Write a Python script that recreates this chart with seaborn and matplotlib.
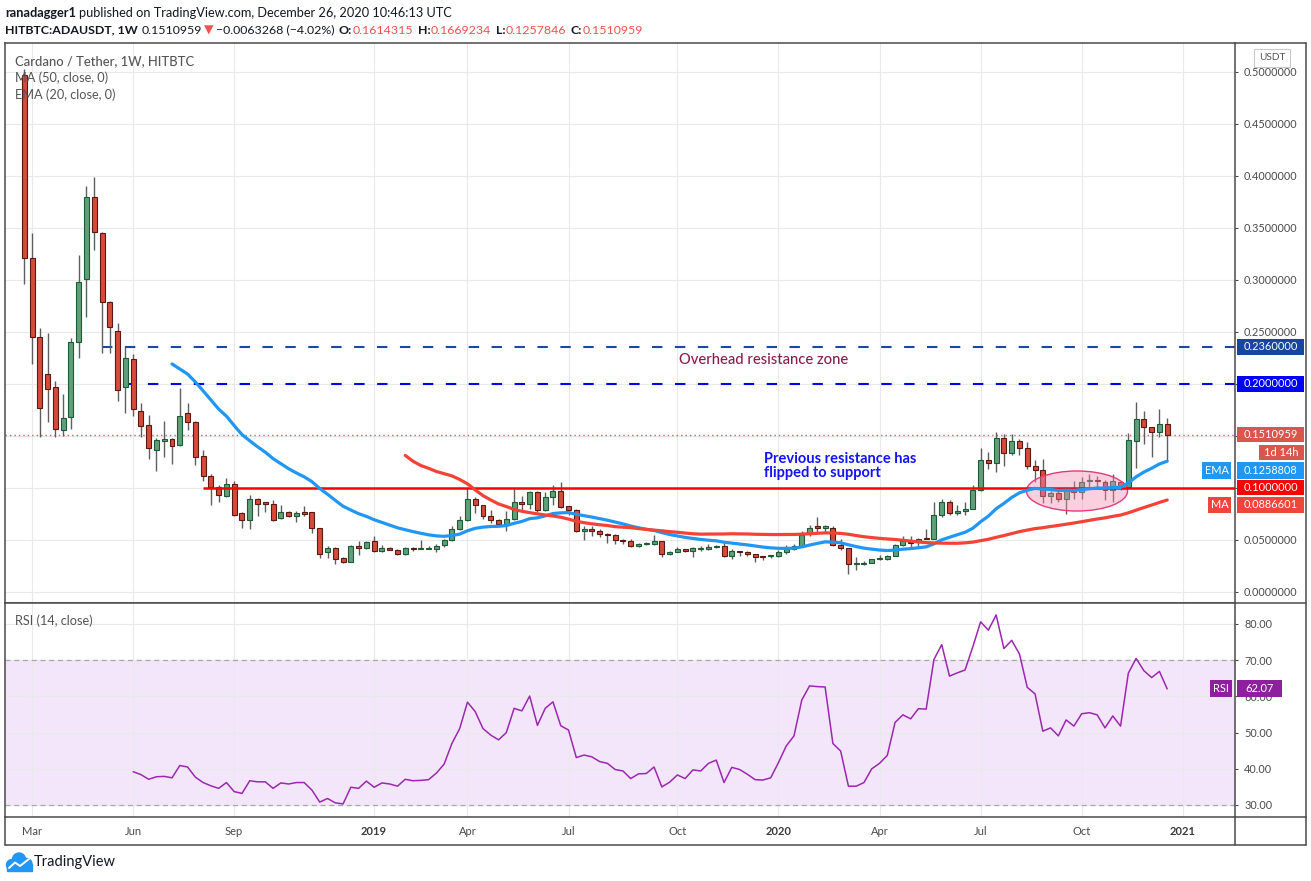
import numpy as np
import pandas as pd
import matplotlib
matplotlib.use("Agg")
import matplotlib.pyplot as plt
import matplotlib.transforms as mtransforms
from matplotlib.patches import Ellipse, Rectangle, Circle
from matplotlib.lines import Line2D
import seaborn as sns

# ---------------- data ----------------
start_week = "2018-02-26"

opens = [0.497, 0.321, 0.245, 0.210, 0.197, 0.156, 0.168, 0.240, 0.301, 0.380,
         0.345, 0.279, 0.251, 0.197, 0.224, 0.174, 0.161, 0.137, 0.1455, 0.147,
         0.141, 0.172, 0.163, 0.131, 0.112, 0.101, 0.092, 0.104, 0.076, 0.069,
         0.089, 0.0855, 0.085, 0.071, 0.077, 0.073, 0.077, 0.077, 0.062, 0.038,
         0.042, 0.033, 0.029, 0.044, 0.042, 0.049, 0.039, 0.042, 0.040, 0.037,
         0.042, 0.041, 0.041, 0.041, 0.045, 0.050, 0.061, 0.069, 0.089, 0.084,
         0.073, 0.069, 0.065, 0.070, 0.087, 0.085, 0.096, 0.079, 0.091, 0.097,
         0.083, 0.079, 0.059, 0.061, 0.059, 0.056, 0.055, 0.050, 0.049, 0.044,
         0.046, 0.046, 0.049, 0.037, 0.038, 0.041, 0.039, 0.041, 0.041, 0.043,
         0.044, 0.035, 0.039, 0.038, 0.037, 0.034, 0.0345, 0.035, 0.038, 0.041,
         0.044, 0.056, 0.0622, 0.062, 0.062, 0.045, 0.042, 0.027, 0.027, 0.028,
         0.0318, 0.032, 0.035, 0.045, 0.0472, 0.048, 0.0512, 0.051, 0.074, 0.087,
         0.076, 0.078, 0.080, 0.098, 0.127, 0.124, 0.148, 0.134, 0.145, 0.138,
         0.121, 0.117, 0.092, 0.095, 0.089, 0.100, 0.096, 0.1065, 0.1072, 0.106,
         0.098, 0.106, 0.101, 0.145, 0.166, 0.159, 0.154, 0.1614315]

highs = [0.503, 0.345, 0.254, 0.249, 0.203, 0.190, 0.244, 0.324, 0.390, 0.399,
         0.346, 0.280, 0.259, 0.236, 0.229, 0.182, 0.170, 0.148, 0.164, 0.148,
         0.196, 0.182, 0.164, 0.137, 0.113, 0.103, 0.110, 0.107, 0.077, 0.093,
         0.090, 0.086, 0.088, 0.084, 0.078, 0.078, 0.083, 0.077, 0.062, 0.044,
         0.043, 0.034, 0.045, 0.049, 0.049, 0.054, 0.045, 0.043, 0.041, 0.043,
         0.043, 0.050, 0.044, 0.046, 0.051, 0.063, 0.073, 0.100, 0.091, 0.084,
         0.079, 0.070, 0.078, 0.099, 0.092, 0.097, 0.097, 0.096, 0.103, 0.106,
         0.083, 0.080, 0.063, 0.063, 0.061, 0.057, 0.056, 0.051, 0.051, 0.047,
         0.048, 0.055, 0.049, 0.039, 0.043, 0.041, 0.043, 0.044, 0.046, 0.045,
         0.047, 0.041, 0.039, 0.039, 0.037, 0.035, 0.035, 0.040, 0.045, 0.046,
         0.059, 0.064, 0.072, 0.064, 0.063, 0.051, 0.042, 0.034, 0.030, 0.032,
         0.036, 0.036, 0.046, 0.054, 0.054, 0.052, 0.061, 0.087, 0.089, 0.088,
         0.084, 0.087, 0.103, 0.138, 0.135, 0.154, 0.152, 0.152, 0.147, 0.144,
         0.127, 0.128, 0.097, 0.097, 0.101, 0.107, 0.111, 0.113, 0.112, 0.108,
         0.113, 0.107, 0.153, 0.183, 0.174, 0.159, 0.176, 0.1669234]

lows = [0.296, 0.219, 0.149, 0.163, 0.149, 0.150, 0.157, 0.225, 0.264, 0.329,
        0.230, 0.230, 0.184, 0.172, 0.169, 0.149, 0.128, 0.116, 0.130, 0.123,
        0.140, 0.156, 0.122, 0.107, 0.084, 0.087, 0.091, 0.073, 0.062, 0.061,
        0.073, 0.077, 0.068, 0.070, 0.072, 0.067, 0.073, 0.057, 0.033, 0.033,
        0.027, 0.028, 0.029, 0.036, 0.041, 0.038, 0.038, 0.040, 0.036, 0.036,
        0.039, 0.041, 0.041, 0.038, 0.043, 0.049, 0.060, 0.068, 0.076, 0.070,
        0.066, 0.064, 0.059, 0.069, 0.079, 0.080, 0.077, 0.078, 0.084, 0.081,
        0.074, 0.058, 0.050, 0.054, 0.053, 0.047, 0.046, 0.046, 0.043, 0.043,
        0.045, 0.045, 0.034, 0.036, 0.038, 0.038, 0.034, 0.039, 0.040, 0.042,
        0.034, 0.032, 0.035, 0.035, 0.029, 0.031, 0.033, 0.034, 0.037, 0.040,
        0.044, 0.054, 0.057, 0.058, 0.044, 0.040, 0.017, 0.021, 0.026, 0.028,
        0.031, 0.031, 0.035, 0.044, 0.042, 0.044, 0.051, 0.051, 0.072, 0.074,
        0.074, 0.074, 0.080, 0.097, 0.118, 0.115, 0.121, 0.132, 0.132, 0.118,
        0.106, 0.086, 0.086, 0.087, 0.075, 0.089, 0.089, 0.101, 0.101, 0.088,
        0.087, 0.098, 0.101, 0.119, 0.142, 0.130, 0.149, 0.1257846]

closes = [0.321, 0.245, 0.177, 0.195, 0.157, 0.167, 0.240, 0.298, 0.380, 0.346,
          0.279, 0.255, 0.194, 0.225, 0.176, 0.160, 0.138, 0.146, 0.1465, 0.140,
          0.169, 0.163, 0.130, 0.112, 0.101, 0.093, 0.104, 0.074, 0.069, 0.089,
          0.085, 0.085, 0.069, 0.077, 0.073, 0.076, 0.075, 0.062, 0.037, 0.042,
          0.032, 0.029, 0.044, 0.042, 0.048, 0.039, 0.042, 0.040, 0.037, 0.042,
          0.041, 0.0412, 0.0411, 0.044, 0.050, 0.061, 0.069, 0.089, 0.084, 0.073,
          0.069, 0.065, 0.070, 0.087, 0.085, 0.096, 0.079, 0.091, 0.097, 0.082,
          0.079, 0.059, 0.061, 0.059, 0.056, 0.055, 0.050, 0.049, 0.044, 0.046,
          0.0462, 0.049, 0.037, 0.038, 0.041, 0.039, 0.042, 0.0412, 0.043, 0.0435,
          0.035, 0.039, 0.038, 0.037, 0.034, 0.0338, 0.035, 0.038, 0.041, 0.044,
          0.055, 0.062, 0.062, 0.0622, 0.045, 0.042, 0.027, 0.0272, 0.028, 0.032,
          0.0322, 0.035, 0.045, 0.049, 0.047, 0.051, 0.051, 0.074, 0.087, 0.076,
          0.078, 0.080, 0.098, 0.127, 0.124, 0.148, 0.134, 0.145, 0.138, 0.121,
          0.117, 0.092, 0.095, 0.089, 0.100, 0.096, 0.106, 0.107, 0.1068, 0.098,
          0.107, 0.101, 0.146, 0.166, 0.159, 0.154, 0.162, 0.1510959]

rsi_first_bar = 14
rsi_values = [39.2, 38.4, 37.1, 37.8, 37.9, 37.5, 40.9, 40.5, 37.7, 36.2,
              35.3, 34.6, 36.2, 33.7, 33.2, 36.7, 36.4, 36.4, 34.6, 36.1,
              35.8, 36.2, 36.2, 34.1, 30.8, 31.8, 30.6, 30.3, 34.9, 34.6,
              36.6, 34.9, 36.1, 35.8, 35.2, 37.1, 36.7, 36.8, 37.0, 38.8,
              41.3, 47.0, 51.1, 58.4, 55.8, 51.1, 49.3, 48.0, 50.0, 56.7,
              56.0, 60.1, 52.0, 56.7, 58.5, 51.9, 50.7, 43.1, 43.8, 43.3,
              42.0, 41.5, 39.8, 39.4, 37.3, 38.6, 38.7, 40.5, 35.0, 36.3,
              38.3, 37.3, 39.7, 39.4, 41.5, 42.4, 36.2, 40.4, 39.8, 38.5,
              37.0, 36.9, 37.5, 41.7, 46.3, 49.1, 59.0, 62.9, 62.7, 62.6,
              47.0, 44.9, 35.2, 35.2, 36.2, 40.0, 41.5, 43.7, 52.8, 54.9,
              53.8, 56.6, 56.5, 70.2, 74.3, 65.6, 66.5, 67.3, 73.7, 80.6,
              78.3, 82.5, 73.2, 75.5, 71.7, 62.5, 60.7, 50.4, 51.3, 49.1,
              53.5, 51.8, 55.2, 55.5, 54.9, 51.3, 54.6, 51.8, 66.4, 70.5,
              67.1, 65.2, 66.9, 62.07]

month_tick_dates = ["2018-03-01", "2018-06-01", "2018-09-01", "2019-01-01",
                    "2019-04-01", "2019-07-01", "2019-10-01", "2020-01-01",
                    "2020-04-01", "2020-07-01", "2020-10-01", "2021-01-01"]
month_tick_labels = ["Mar", "Jun", "Sep", "2019", "Apr", "Jul", "Oct", "2020",
                     "Apr", "Jul", "Oct", "2021"]
price_ticks = [0.0, 0.05, 0.10, 0.15, 0.20, 0.25, 0.30, 0.35, 0.40, 0.45, 0.50]
rsi_ticks = [30, 40, 50, 60, 70, 80]

zone_high = 0.236
zone_low = 0.200
support_level = 0.100
ema_last_text = "0.1258808"
ma_last_text = "0.0886601"
rsi_last_text = "62.07"
countdown_text = "1d 14h"

# ---------------- figure ----------------
W, H = 1311, 881
sns.set_theme(style="white")
plt.rcParams["font.family"] = ["Lato", "DejaVu Sans"]
plt.rcParams["axes.unicode_minus"] = True

fig = plt.figure(figsize=(W / 100, H / 100), dpi=100)
fig.patch.set_facecolor("white")
pix = mtransforms.Affine2D().scale(1 / W, -1 / H).translate(0, 1) + fig.transFigure

FRAME = "#4a4a4a"
GRID = "#e9e9e9"
TXT = "#4a4a4a"

ax = fig.add_axes([5 / W, 1 - 603 / H, 1230 / W, 560 / H])
ax2 = fig.add_axes([5 / W, 1 - 817 / H, 1230 / W, 214 / H])

n = len(closes)
idx = np.arange(n)
o = np.array(opens); hi = np.array(highs); lo = np.array(lows); c = np.array(closes)
weeks = pd.date_range(start_week, periods=n + 12, freq="7D")
tick_pos = np.searchsorted(weeks.values, pd.to_datetime(month_tick_dates).values, side="left")

xlim = (-2.48, 155.72)
for a in (ax, ax2):
    a.set_facecolor("white")
    a.set_xlim(*xlim)
    a.set_xticks(tick_pos)
    a.grid(True, color=GRID, lw=0.8)
    a.set_axisbelow(True)
    for s in a.spines.values():
        s.set_color(FRAME)
        s.set_linewidth(1.1)
        s.set_visible(True)
    a.yaxis.tick_right()
    a.tick_params(axis="y", length=2.2, width=0.8, color=FRAME, pad=4.3,
                  labelsize=7.8, labelcolor=TXT)

ax.set_ylim(-0.01058, 0.52788)
ax.set_yticks(price_ticks)
ax.set_yticklabels([f"{t:.7f}" for t in price_ticks])
ax.tick_params(axis="x", length=0, labelbottom=False)

ax2.set_ylim(26.685, 85.80)
ax2.set_yticks(rsi_ticks)
ax2.set_yticklabels([f"{t:.2f}" for t in rsi_ticks])
ax2.tick_params(axis="x", length=2.2, width=0.8, color=FRAME, pad=4.0,
                labelsize=8, labelcolor=TXT)
ax2.set_xticklabels(month_tick_labels)
for lab in ax2.get_xticklabels():
    if lab.get_text().isdigit():
        lab.set_fontweight("bold")
        lab.set_color("#3a3a3a")

# ---- price panel ----
ax.axhline(c[-1], color="#e05a5a", lw=1.0, ls=(0, (1, 2.2)), zorder=1)
ax.hlines(zone_high, 10, xlim[1], color="#1a4aa0", lw=1.5, ls=(0, (5, 6)), zorder=2)
ax.hlines(zone_low, 13, xlim[1], color="#0000ff", lw=1.5, ls=(0, (5, 6)), zorder=2)

up = c >= o
body_lo = np.minimum(o, c)
body_h = np.maximum(np.abs(c - o), 0.0012)
ax.vlines(idx, lo, hi, color="#5e5e5e", lw=1.0, zorder=3)
ax.bar(idx[up], body_h[up], bottom=body_lo[up], width=0.64, color="#5fa07a",
       edgecolor="#1d5b36", linewidth=0.8, zorder=4)
ax.bar(idx[~up], body_h[~up], bottom=body_lo[~up], width=0.64, color="#d64a3a",
       edgecolor="#5a1913", linewidth=0.8, zorder=4)

ax.add_patch(Ellipse((135.4, 0.0971), 13.0, 0.0385, facecolor="#f48fb1", alpha=0.42,
                     edgecolor="none", zorder=5))
ax.add_patch(Ellipse((135.4, 0.0971), 13.0, 0.0385, facecolor="none",
                     edgecolor="#e33b78", lw=1.0, zorder=5))

ax.hlines(support_level, 23, xlim[1], color="#ff0000", lw=1.8, zorder=6)

close_s = pd.Series(c)
ma50 = close_s.rolling(50).mean()
alpha = 2 / 21
ema20 = np.full(n, np.nan)
ema20[19] = c[:20].mean()
for i in range(20, n):
    ema20[i] = alpha * c[i] + (1 - alpha) * ema20[i - 1]

df_ma = pd.DataFrame({"x": idx, "ma": ma50, "ema": ema20})
sns.lineplot(data=df_ma.dropna(subset=["ema"]), x="x", y="ema", ax=ax,
             color="#2196f3", lw=2.3, zorder=7, legend=False)
sns.lineplot(data=df_ma.dropna(subset=["ma"]), x="x", y="ma", ax=ax,
             color="#f44336", lw=2.3, zorder=7, legend=False)
ax.set_xlabel(""); ax.set_ylabel("")

ax.text(84.2, 0.2231, "Overhead resistance zone", color="#8a1c4b", fontsize=10.6,
        fontweight="medium", ha="left", va="center", zorder=8)
ax.text(95.1, 0.1212, "Previous resistance has\nflipped to support", color="#1212ff",
        fontsize=10.5, fontweight="bold", ha="left", va="center", linespacing=0.95, zorder=8)

# ---- RSI panel ----
ax2.axhspan(30, 70, color="#f3e6fb", zorder=0)
ax2.axhline(70, color="#a9a9a9", lw=0.9, ls=(0, (4, 3)), zorder=1)
ax2.axhline(30, color="#a9a9a9", lw=0.9, ls=(0, (4, 3)), zorder=1)
df_rsi = pd.DataFrame({"x": idx[rsi_first_bar:rsi_first_bar + len(rsi_values)], "rsi": rsi_values})
sns.lineplot(data=df_rsi, x="x", y="rsi", ax=ax2, color="#9c27b0", lw=1.1, zorder=3, legend=False)
ax2.set_xlabel(""); ax2.set_ylabel("")

# ---- outer frame pieces ----
for (x0, y0, x1, y1) in [(1235, 43, 1306, 43), (1306, 43, 1306, 845), (5, 845, 1306, 845),
                         (5, 817, 5, 845), (1235, 603, 1306, 603), (1235, 817, 1306, 817),
                         (1235, 817, 1235, 845)]:
    fig.add_artist(Line2D([x0, x1], [y0, y1], transform=pix, color=FRAME, lw=1.1, zorder=12))


def ypix(axis, v):
    return H - axis.transData.transform((0, v))[1]


def box(x0, x1, yc, hpx, text, fc, tc="white", fs=7.9):
    fig.add_artist(Rectangle((x0, yc - hpx / 2), x1 - x0, hpx, transform=pix,
                             facecolor=fc, edgecolor="none", zorder=13))
    fig.text((x0 + x1) / 2 / W, 1 - yc / H, text, ha="center", va="center",
             color=tc, fontsize=fs, zorder=14)


yb = ypix(ax, zone_high); box(1237, 1304, yb, 16, f"{zone_high:.7f}", "#15479f")
yb = ypix(ax, zone_low); box(1237, 1304, yb, 16, f"{zone_low:.7f}", "#0000ff")
yb = ypix(ax, c[-1]); box(1237, 1304, yb, 15, f"{c[-1]:.7f}", "#d9574a")
box(1259, 1304, yb + 17.5, 15, countdown_text, "#d9574a")
# EMA / MA labels are pushed down by the chart so they do not overlap
box(1237, 1304, 470.5, 16.5, ema_last_text, "#2196f3")
box(1202, 1231, 470.5, 16.5, "EMA", "#2196f3")
yb = ypix(ax, support_level); box(1237, 1304, yb, 15, f"{support_level:.7f}", "#ff0000")
box(1237, 1304, 505, 16, ma_last_text, "#f0453a")
box(1208, 1231, 505, 16, "MA", "#f0453a")
yb = ypix(ax2, rsi_values[-1]); box(1237, 1282, yb, 17, rsi_last_text, "#8e1f9e")
box(1210, 1232, yb, 17, "RSI", "#8e1f9e")

fig.text(1272 / W, 1 - 57.5 / H, "USDT", ha="center", va="center", fontsize=7.2, color="#555",
         bbox=dict(boxstyle="square,pad=0.45", fc="white", ec="#c9c9c9", lw=0.8), zorder=14)

# ---- panel legends ----
LEG = "#555555"
fig.text(15 / W, 1 - 61 / H, "Cardano / Tether, 1W, HITBTC", fontsize=9.4, color=LEG,
         fontweight="medium", va="center", ha="left")
fig.text(15 / W, 1 - 78 / H, "MA (50, close, 0)", fontsize=9.2, color=LEG, va="center")
fig.text(15 / W, 1 - 95 / H, "EMA (20, close, 0)", fontsize=9.2, color=LEG, va="center")
fig.text(15 / W, 1 - 621 / H, "RSI (14, close)", fontsize=9.2, color=LEG, va="center")

# ---- header ----
renderer = fig.canvas.get_renderer()
HFAM = ["Lato", "DejaVu Sans"]


def chain(x, y, pieces, fs):
    for txt, col, wt, gap in pieces:
        t = fig.text(x / W, 1 - y / H, txt, color=col, fontweight=wt, fontsize=fs,
                     va="center", ha="left", family=HFAM)
        x += t.get_window_extent(renderer).width + gap


RED = "#ef5350"
BLK = "#131722"
chain(5, 13, [("ranadagger1", BLK, "bold", 3.5),
              ("published on TradingView.com, December 26, 2020 10:46:13 UTC", BLK, "normal", 0)], 9.2)
chain(5, 30, [("HITBTC:ADAUSDT, 1W", BLK, "bold", 4),
              ("0.1510959", BLK, "normal", 1.5),
              ("\u25bc", RED, "normal", 3),
              ("\u22120.0063268 (\u22124.02%)", BLK, "normal", 4),
              ("O:", BLK, "bold", 0.5), ("0.1614315", RED, "normal", 4.5),
              ("H:", BLK, "bold", 0.5), ("0.1669234", RED, "normal", 4.5),
              ("L:", BLK, "bold", 0.5), ("0.1257846", RED, "normal", 4.5),
              ("C:", BLK, "bold", 0.5), ("0.1510959", RED, "normal", 0)], 8.9)

# ---- TradingView logo ----
for (cx, cy, r) in [(12, 865, 5.5), (19, 859.5, 6.5), (26.5, 864, 5.5)]:
    fig.add_artist(Circle((cx, cy), r, transform=pix, color="#2196f3", zorder=12))
fig.add_artist(Rectangle((7, 864), 25, 6.5, transform=pix, color="#2196f3", zorder=12))
fig.add_artist(Line2D([9, 15, 20, 29], [868, 862.5, 866, 859], transform=pix,
                      color="white", lw=1.4, zorder=13))
fig.text(34 / W, 1 - 862 / H, "TradingView", fontsize=10.5, color=BLK, va="center", ha="left")

fig.savefig("out.png", dpi=100, facecolor="white")
